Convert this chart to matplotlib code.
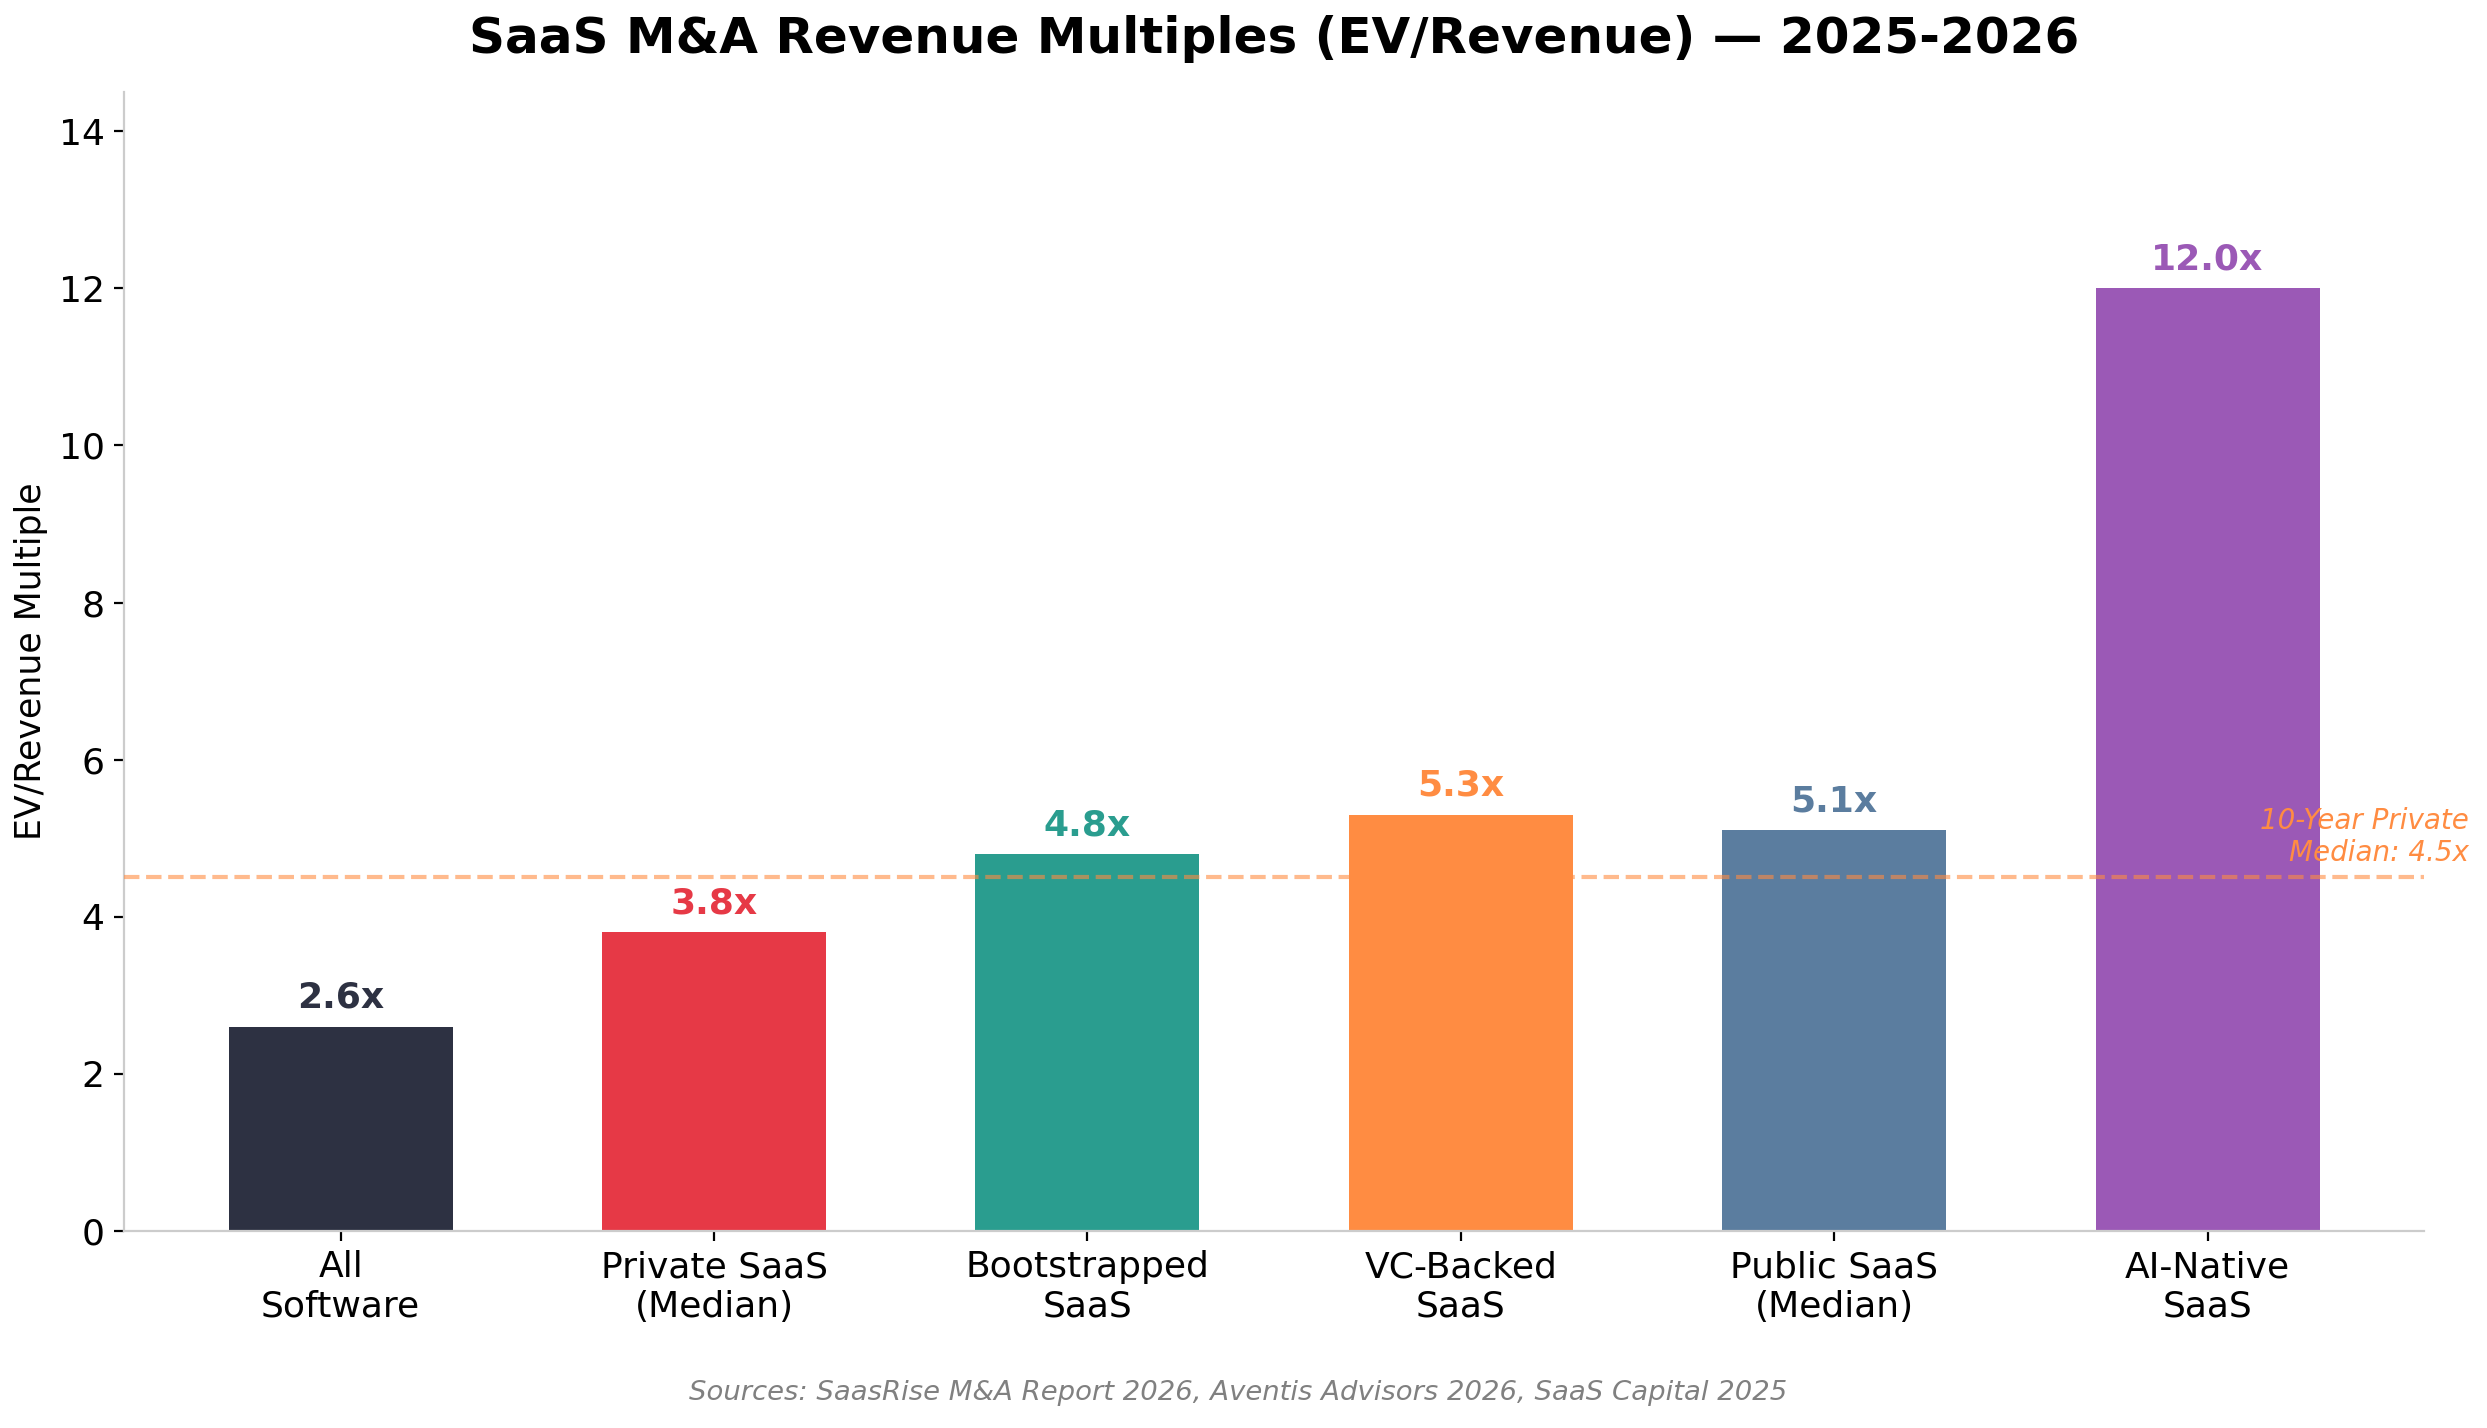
import matplotlib
matplotlib.use("Agg")
import matplotlib.pyplot as plt

# --- data ---
categories = ["All\nSoftware", "Private SaaS\n(Median)", "Bootstrapped\nSaaS",
              "VC-Backed\nSaaS", "Public SaaS\n(Median)", "AI-Native\nSaaS"]
multiples = [2.6, 3.8, 4.8, 5.3, 5.1, 12.0]
bar_colors = ["#2D3142", "#E63946", "#2A9D8F", "#FF8C42", "#5B7D9F", "#9B59B6"]
median_10yr = 4.5

fig = plt.figure(figsize=(12.435, 7.14), dpi=200)
ax = fig.add_axes([0.0499, 0.138, 0.9248, 0.7976])

x = list(range(len(categories)))
ax.bar(x, multiples, width=0.6, color=bar_colors, zorder=2)

for xi, v, c in zip(x, multiples, bar_colors):
    ax.text(xi, v + 0.15, f"{v:.1f}x", ha="center", va="bottom",
            fontsize=13, fontweight="bold", color=c, zorder=4)

# 10-year private median reference line
ax.axhline(median_10yr, color="#FF8C42", linestyle="--", linewidth=1.5,
           alpha=0.6, zorder=3)
ax.text(5.7, median_10yr + 0.13, "10-Year Private\nMedian: 4.5x", ha="right",
        va="bottom", fontsize=10, fontstyle="italic", color="#FF8C42", zorder=4)

ax.set_ylim(0, 14.5)
ax.set_xticks(x)
ax.set_xticklabels(categories, fontsize=13)
ax.tick_params(axis="y", labelsize=13)
ax.set_ylabel("EV/Revenue Multiple", fontsize=12.5)

for side in ("top", "right"):
    ax.spines[side].set_visible(False)
for side in ("left", "bottom"):
    ax.spines[side].set_color("#CCCCCC")

ax.set_title("SaaS M&A Revenue Multiples (EV/Revenue) \u2014 2025-2026",
             fontsize=18, fontweight="bold", pad=14)
fig.text(0.498, 0.0245,
         "Sources: SaasRise M&A Report 2026, Aventis Advisors 2026, SaaS Capital 2025",
         ha="center", va="center", fontsize=9.9, fontstyle="italic", color="#808080")

fig.savefig("out.png", dpi=200)
